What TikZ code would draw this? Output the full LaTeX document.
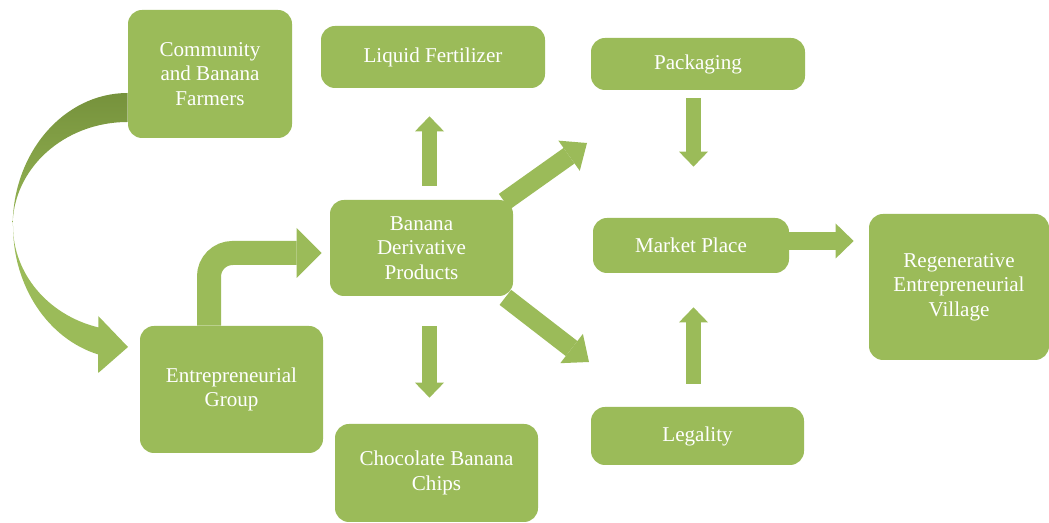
\documentclass[tikz,border=0pt]{standalone}
\usepackage{fontspec}
\setmainfont{Liberation Serif}
\usetikzlibrary{positioning, arrows.meta, calc}
\definecolor{leaf}{HTML}{9BBB59}
\definecolor{leafdark}{HTML}{76923C}

\begin{document}
\begin{tikzpicture}
    \tikzstyle{block} = [fill=leaf, rounded corners=0.28cm, text=white, align=center, inner sep=0pt, font=\fontsize{12}{14}\selectfont];
    \tikzstyle{fatarrow} = [draw=leaf, line width=0.3cm, -{Triangle[length=0.3cm, width=0.58cm, line width=0pt]}];
    \tikzstyle{slantarrow} = [draw=leaf, line width=0.38cm, -{Triangle[length=0.44cm, width=0.74cm, line width=0pt]}];

    \useasboundingbox (0, 0) rectangle (20.98, -10.46);

    \node[block, minimum width=3.28cm, minimum height=2.56cm] (comm) at (4.20, -1.48) {Community\\and Banana\\Farmers};
    \node[block, minimum width=4.48cm, minimum height=1.24cm] (lf) at (8.66, -1.14) {Liquid Fertilizer};
    \node[block, minimum width=4.28cm, minimum height=1.04cm] (pack) at (13.96, -1.28) {Packaging};
    \node[block, minimum width=3.66cm, minimum height=1.92cm] (bdp) at (8.43, -4.96) {Banana\\Derivative\\Products};
    \node[block, minimum width=3.92cm, minimum height=1.10cm] (mp) at (13.82, -4.91) {Market Place};
    \node[block, minimum width=3.60cm, minimum height=2.92cm] (rev) at (19.18, -5.74) {Regenerative\\Entrepreneurial\\Village};
    \node[block, minimum width=3.66cm, minimum height=2.54cm] (eg) at (4.63, -7.79) {Entrepreneurial\\Group};
    \node[block, minimum width=4.06cm, minimum height=1.96cm] (cbc) at (8.73, -9.46) {Chocolate Banana\\Chips};
    \node[block, minimum width=4.26cm, minimum height=1.16cm] (leg) at (13.95, -8.72) {Legality};

    \coordinate (bend) at (0.26, -4.52);
    \coordinate (ne) at (11.74, -2.86);
    \coordinate (se) at (11.78, -7.24);

    \shade[top color=leafdark, bottom color=leaf!85!leafdark] ($(comm.west)+(0,-0.38)$)
        arc[start angle=90, end angle=180, x radius=2.3cm, y radius=2.66cm]
        arc[start angle=180, end angle=90, x radius=2.3cm, y radius=2.08cm] -- cycle;
    \fill[leaf] (bend) arc[start angle=180, end angle=255, x radius=2.3cm, y radius=2.66cm]
        -- (1.965, -7.46) -- (2.56, -6.94) -- (1.965, -6.32) -- (1.965, -6.548)
        arc[start angle=255, end angle=180, x radius=2.3cm, y radius=2.10cm] -- cycle;

    \draw[fatarrow, line width=0.48cm, rounded corners=0.47cm, -{Triangle[length=0.5cm, width=1.0cm, line width=0pt]}, shorten >=0.16cm]
        ($(eg.north)+(-0.45,0)$) |- ($(bdp.west)+(0,-0.1)$);

    \draw[fatarrow, shorten <=0.28cm, shorten >=0.56cm] ($(bdp.north)+(0.16,0)$) -- ($(bdp.north |- lf.south)+(0.16,0)$);
    \draw[fatarrow, shorten <=0.60cm, shorten >=0.52cm] ($(bdp.south)+(0.16,0)$) -- ($(bdp.south |- cbc.north)+(0.16,0)$);
    \draw[fatarrow, shorten <=0.16cm, shorten >=1.02cm] ($(pack.south)+(-0.09,0)$) -- ($(pack.south |- mp.north)+(-0.09,0)$);
    \draw[fatarrow, shorten <=0.46cm, shorten >=0.68cm] ($(leg.north)+(-0.08,0)$) -- ($(leg.north |- mp.south)+(-0.08,0)$);
    \draw[fatarrow, line width=0.36cm, -{Triangle[length=0.36cm, width=0.7cm, line width=0pt]}, shorten >=0.30cm]
        ($(mp.east)+(0,0.09)$) -- ($(mp.east -| rev.west)+(0,0.09)$);

    \draw[slantarrow] ($(bdp.north east)+(-0.18,-0.04)$) -- (ne);
    \draw[slantarrow] ($(bdp.south east)+(-0.16,-0.02)$) -- (se);
\end{tikzpicture}
\end{document}
